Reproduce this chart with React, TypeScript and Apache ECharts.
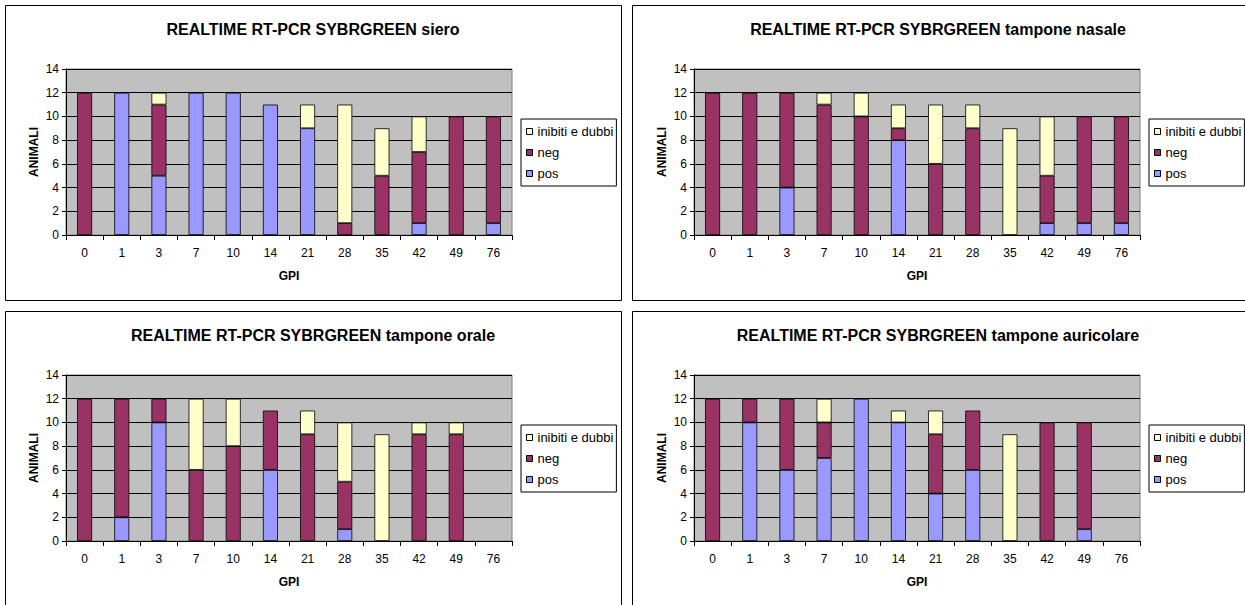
import React, { useEffect, useRef } from "react";
import * as echarts from "echarts";

const categories = ["0", "1", "3", "7", "10", "14", "21", "28", "35", "42", "49", "76"];
const yTicks = [0, 2, 4, 6, 8, 10, 12, 14];

const sieroPos = [0, 12, 5, 12, 12, 11, 9, 0, 0, 1, 0, 1];
const sieroNeg = [12, 0, 6, 0, 0, 0, 0, 1, 5, 6, 10, 9];
const sieroInib = [0, 0, 1, 0, 0, 0, 2, 10, 4, 3, 0, 0];

const nasalePos = [0, 0, 4, 0, 0, 8, 0, 0, 0, 1, 1, 1];
const nasaleNeg = [12, 12, 8, 11, 10, 1, 6, 9, 0, 4, 9, 9];
const nasaleInib = [0, 0, 0, 1, 2, 2, 5, 2, 9, 5, 0, 0];

const oralePos = [0, 2, 10, 0, 0, 6, 0, 1, 0, 0, 0, 0];
const oraleNeg = [12, 10, 2, 6, 8, 5, 9, 4, 0, 9, 9, 0];
const oraleInib = [0, 0, 0, 6, 4, 0, 2, 5, 9, 1, 1, 0];

const auricPos = [0, 10, 6, 7, 12, 10, 4, 6, 0, 0, 1, 0];
const auricNeg = [12, 2, 6, 3, 0, 0, 5, 5, 0, 10, 9, 0];
const auricInib = [0, 0, 0, 2, 0, 1, 2, 0, 9, 0, 0, 0];

const titles = [
  "REALTIME RT-PCR SYBRGREEN siero",
  "REALTIME RT-PCR SYBRGREEN tampone nasale",
  "REALTIME RT-PCR SYBRGREEN tampone orale",
  "REALTIME RT-PCR SYBRGREEN tampone auricolare",
];
const panelData = [
  [sieroPos, sieroNeg, sieroInib],
  [nasalePos, nasaleNeg, nasaleInib],
  [oralePos, oraleNeg, oraleInib],
  [auricPos, auricNeg, auricInib],
];
const seriesNames = ["pos", "neg", "inibiti e dubbi"];
const legendOrder = ["inibiti e dubbi", "neg", "pos"];
const colors = ["#9999FF", "#993366", "#FFFFCC"];

const FONT = "Liberation Sans, Arial, sans-serif";

export default function App() {
  const ref = useRef<HTMLDivElement>(null);
  useEffect(() => {
    if (!ref.current) return;
    const chart = echarts.init(ref.current, null, { renderer: "svg" });
    const panels = [
      { px: 5.5, py: 5.5, pw: 616, ph: 295, gl: 66, gt: 69, cx: 313 },
      { px: 632.5, py: 5.5, pw: 620, ph: 295, gl: 694, gt: 69, cx: 938 },
      { px: 5.5, py: 311.5, pw: 616, ph: 300, gl: 66, gt: 375, cx: 313 },
      { px: 632.5, py: 311.5, pw: 620, ph: 300, gl: 694, gt: 375, cx: 938 },
    ];
    const grid: any[] = [];
    const xAxis: any[] = [];
    const yAxis: any[] = [];
    const title: any[] = [];
    const legend: any[] = [];
    const series: any[] = [];
    const graphic: any[] = [];
    panels.forEach((p, i) => {
      graphic.push({
        type: "rect",
        shape: { x: p.px, y: p.py, width: p.pw, height: p.ph },
        style: { fill: "#fff", stroke: "#000", lineWidth: 1 },
        z: -10,
      });
      grid.push({
        left: p.gl,
        top: p.gt,
        width: 446,
        height: 166,
        show: true,
        backgroundColor: "#C0C0C0",
        borderColor: "#808080",
        borderWidth: 1,
        containLabel: false,
      });
      title.push({
        text: titles[i],
        left: p.cx,
        textAlign: "center",
        top: p.gt - 48,
        padding: 0,
        textStyle: { fontFamily: FONT, fontSize: 16, fontWeight: "bold", color: "#000" },
      });
      legend.push({
        data: legendOrder,
        orient: "vertical",
        left: p.gl + 455,
        top: p.gt + 50,
        padding: [5, 3, 5, 5],
        itemGap: 6,
        itemWidth: 6,
        itemHeight: 6,
        icon: "rect",
        backgroundColor: "#fff",
        borderColor: "#000",
        borderWidth: 1,
        borderRadius: 0,
        selectedMode: false,
        itemStyle: { borderColor: "#000", borderWidth: 1 },
        textStyle: { fontFamily: FONT, fontSize: 13, color: "#000", lineHeight: 15 },
      });
      xAxis.push({
        type: "category",
        gridIndex: i,
        data: categories,
        name: "GPI",
        nameLocation: "middle",
        nameGap: 35,
        nameTextStyle: { fontFamily: FONT, fontSize: 12, fontWeight: "bold", color: "#000" },
        axisLine: { show: true, lineStyle: { color: "#000", width: 1 } },
        axisTick: { show: true, alignWithLabel: false, length: 5, inside: false, lineStyle: { color: "#000" } },
        axisLabel: { fontFamily: FONT, fontSize: 12, color: "#000", margin: 12, interval: 0 },
        splitLine: { show: false },
      });
      yAxis.push({
        type: "value",
        gridIndex: i,
        min: yTicks[0],
        max: yTicks[yTicks.length - 1],
        interval: 2,
        name: "ANIMALI",
        nameLocation: "middle",
        nameGap: 26,
        nameTextStyle: { fontFamily: FONT, fontSize: 12, fontWeight: "bold", color: "#000" },
        axisLine: { show: true, lineStyle: { color: "#000", width: 1 } },
        axisTick: { show: true, length: 4, lineStyle: { color: "#000" } },
        axisLabel: { fontFamily: FONT, fontSize: 12, color: "#000", margin: 7 },
        splitLine: { show: true, lineStyle: { color: "#000", width: 1 } },
      });
      panelData[i].forEach((vals, k) => {
        series.push({
          type: "bar",
          name: seriesNames[k],
          xAxisIndex: i,
          yAxisIndex: i,
          stack: "s" + i,
          barWidth: 15,
          data: vals.map((v) => (v === 0 ? null : v)),
          itemStyle: { color: colors[k], borderColor: "#000", borderWidth: 0.8 },
          emphasis: { disabled: true },
        });
      });
    });
    chart.setOption({
      animation: false,
      color: colors,
      textStyle: { fontFamily: FONT },
      graphic,
      title,
      legend,
      grid,
      xAxis,
      yAxis,
      series,
    });
    return () => chart.dispose();
  }, []);
  return (
    <div
      ref={ref}
      style={{ position: "fixed", left: 0, top: 0, width: 1245, height: 605, background: "#fff" }}
    />
  );
}
